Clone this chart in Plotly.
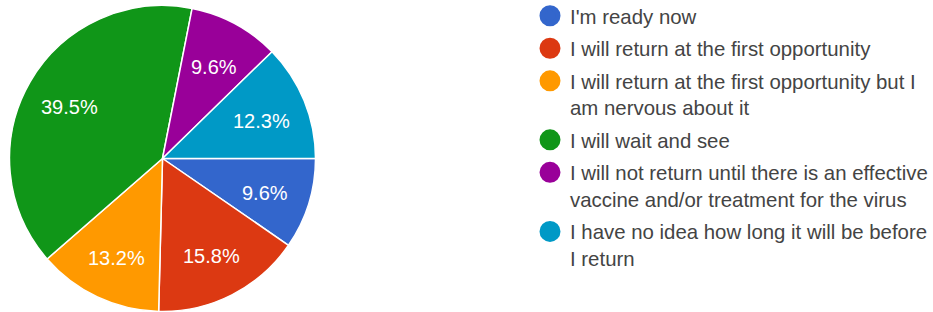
import math
import plotly.graph_objects as go

labels = [
    "I'm ready now",
    "I will return at the first opportunity",
    "I will return at the first opportunity but I<br>am nervous about it",
    "I will wait and see",
    "I will not return until there is an effective<br>vaccine and/or treatment for the virus",
    "I have no idea how long it will be before<br>I return",
]
values = [9.6, 15.8, 13.2, 39.5, 9.6, 12.3]
colors = ["#3366cc", "#dc3912", "#ff9900", "#109618", "#990099", "#0099c6"]

W, H = 933, 312
SHIFT = 4  # figure is drawn 4px taller and lifted by 4px so the legend can start higher
HF = H + SHIFT
FONT = "Liberation Sans, Arial, sans-serif"
# pie geometry (screen pixels)
cx, cy, R = 162.5, 158.5, 153.0


def py_paper(y_screen):
    return 1 - (y_screen + SHIFT) / HF


fig = go.Figure()
fig.add_trace(go.Pie(
    labels=labels, values=values, sort=False, direction="clockwise", rotation=90,
    marker=dict(colors=colors, line=dict(color="white", width=1.5)),
    textinfo="none",
    domain=dict(x=[(cx - R) / W, (cx + R) / W], y=[py_paper(cy + R), py_paper(cy - R)]),
    showlegend=False, hoverinfo="label+percent",
))
for lab, col in zip(labels, colors):
    fig.add_trace(go.Scatter(
        x=[None], y=[None], mode="markers", name=lab, legendgroup=lab,
        marker=dict(symbol="circle", size=16, color=col, line=dict(color=col, width=5)),
    ))

# slice labels placed along each slice's mid-angle (derived from values)
total = sum(values)
annotations = []
cum = 0.0
for v in values:
    mid = (cum + v / 2) / total * 2 * math.pi  # clockwise from 3 o'clock
    cum += v
    r = 0.7 * R
    px = cx + r * math.cos(mid)
    py = cy + r * math.sin(mid) + 2.5
    annotations.append(dict(
        x=px / W, y=py_paper(py), xref="paper", yref="paper", showarrow=False,
        text=f"{v / total * 100:.1f}%", font=dict(color="white", size=20, family=FONT),
        xanchor="center", yanchor="middle",
    ))

fig.update_layout(
    width=W, height=HF, margin=dict(l=0, r=0, t=0, b=0),
    paper_bgcolor="white", plot_bgcolor="white",
    xaxis=dict(visible=False), yaxis=dict(visible=False),
    legend=dict(x=530 / W, y=1.0, xanchor="left", yanchor="top", valign="top",
                font=dict(size=20.4, color="#444444", family=FONT),
                itemsizing="trace", tracegroupgap=3, bgcolor="rgba(0,0,0,0)"),
    font=dict(family=FONT),
    annotations=annotations,
)
fig.write_html(
    "out.html", config={"displayModeBar": False},
    post_script=f"document.body.style.margin='0px';document.body.style.overflow='hidden';"
                f"document.body.style.marginTop='-{SHIFT}px';",
)
